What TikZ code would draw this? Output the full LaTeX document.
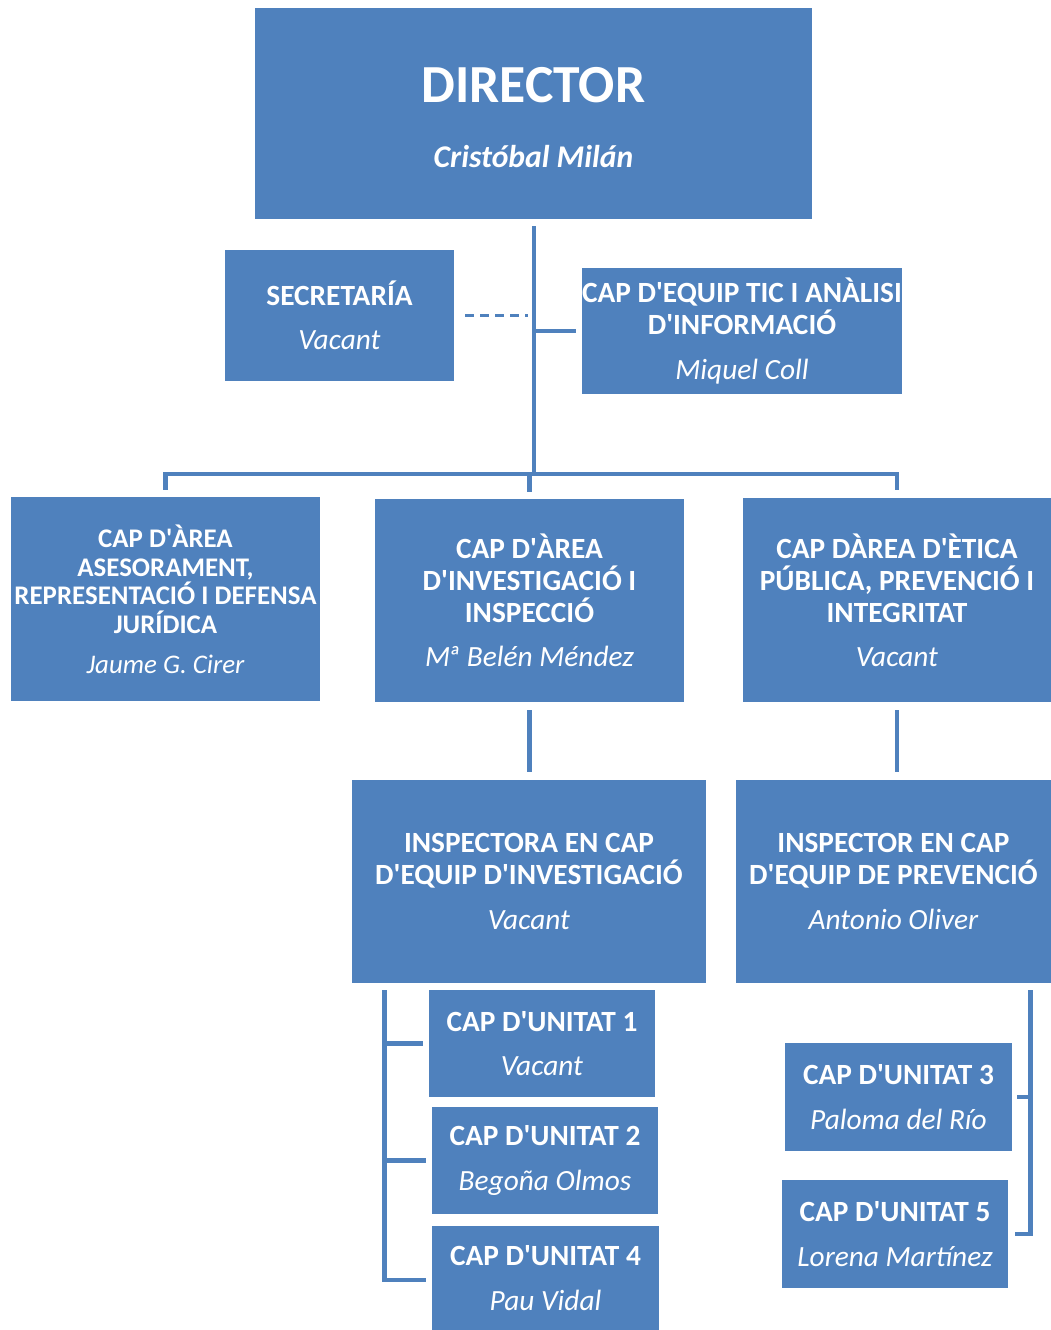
\documentclass[tikz,border=0pt]{standalone}
\usepackage{fontspec}
\newfontfamily\carlito{Carlito}
\usetikzlibrary{calc}
\definecolor{boxblue}{HTML}{4F81BD}
\newcommand{\who}[1]{{\mdseries\itshape #1}}

\begin{document}
\begin{tikzpicture}[x=0.02cm,y=-0.02cm,
    box/.style={fill=boxblue, text=white, inner sep=0pt, align=center,
      font=\carlito\bfseries\fontsize{16.7}{18.2}\selectfont},
    smallbox/.style={box, font=\carlito\bfseries\fontsize{15.3}{16.4}\selectfont},
    link/.style={draw=boxblue, line width=2.8pt},
    aide/.style={draw=boxblue, line width=1.3pt, dash pattern=on 0.18cm off 0.12cm}]

 % ================================================================
 % frame
 % ================================================================
	\useasboundingbox (0,0) rectangle (1051,1330);

        % top
        \node[box, minimum width=11.14cm, minimum height=4.22cm,
              font=\carlito\bfseries\fontsize{30.5}{34}\selectfont] (dir) at (533.5,113.5)
              {\rule{0pt}{25pt}DIRECTOR\\[3pt]{\fontsize{18}{22}\selectfont\itshape Cristóbal Milán}};
        \node[box, minimum width=4.58cm, minimum height=2.62cm] (sec) at (339.5,315.5)
              {SECRETARÍA\\[7pt]\who{Vacant}};
        \node[box, minimum width=6.36cm, minimum height=2.52cm] (tic) at (742,331)
              {CAP D'EQUIP TIC I ANÀLISI\\D'INFORMACIÓ\\[7pt]\who{Miquel Coll}};

        % areas
        \node[smallbox, minimum width=6.18cm, minimum height=4.08cm] (jur) at (165.5,599)
              {CAP D'ÀREA\\ASESORAMENT,\\REPRESENTACIÓ I DEFENSA\\JURÍDICA\\[6pt]\who{Jaume G. Cirer}};
        \node[box, minimum width=6.18cm, minimum height=4.06cm] (inv) at (529.5,600.5)
              {CAP D'ÀREA\\D'INVESTIGACIÓ I\\INSPECCIÓ\\[7pt]\who{M\kern-1.5ptª Belén Méndez}};
        \node[box, minimum width=6.16cm, minimum height=4.08cm] (eti) at (897,600)
              {CAP DÀREA D'ÈTICA\\PÚBLICA, PREVENCIÓ I\\INTEGRITAT\\[7pt]\who{Vacant}};

        % teams
        \node[box, minimum width=7.08cm, minimum height=4.06cm] (insa) at (529,881.5)
              {INSPECTORA EN CAP\\D'EQUIP D'INVESTIGACIÓ\\[7pt]\who{Vacant}};
        \node[box, minimum width=6.30cm, minimum height=4.06cm] (insb) at (893.5,881.5)
              {INSPECTOR EN CAP\\D'EQUIP DE PREVENCIÓ\\[7pt]\who{Antonio Oliver}};

        % units
        \node[box, minimum width=4.52cm, minimum height=2.14cm] (u1) at (542,1043.5)
              {CAP D'UNITAT 1\\[7pt]\who{Vacant}};
        \node[box, minimum width=4.52cm, minimum height=2.14cm] (u2) at (545,1160.5)
              {CAP D'UNITAT 2\\[7pt]\who{Begoña Olmos}};
        \node[box, minimum width=4.54cm, minimum height=2.08cm] (u4) at (545.5,1278)
              {CAP D'UNITAT 4\\[7pt]\who{Pau Vidal}};
        \node[box, minimum width=4.54cm, minimum height=2.16cm] (u3) at (898.5,1097)
              {CAP D'UNITAT 3\\[7pt]\who{Paloma del Río}};
        \node[box, minimum width=4.52cm, minimum height=2.16cm] (u5) at (895,1234)
              {CAP D'UNITAT 5\\[7pt]\who{Lorena Martínez}};

 % ----------------------------------------
 % links
 % ----------------------------------------
        \coordinate (bar) at (534,474);
        \draw[link] ($(dir.south -| bar)+(0,7)$) -- (bar);
        \draw[link] ($(jur.north)+(0,-7)$) |- (bar) -| ($(eti.north)+(0,-8)$);
        \draw[link] (inv.north |- bar) -- ($(inv.north)+(0,-7)$);
        \draw[aide] ($(sec.east)+(11,0)$) -- ($(sec.east -| bar)+(-6,0)$);
        \draw[link] ($(tic.west -| bar)+(2,0)$) -- ($(tic.west)+(-6,0)$);

        \draw[link] ($(inv.south)+(0,8)$) -- ($(insa.north -| inv.south)+(0,-8)$);
        \draw[link] ($(eti.south)+(0,8)$) -- ($(insb.north -| eti.south)+(0,-8)$);

        % left units
        \coordinate (lft) at ($(insa.south west)+(33,7)$);
        \draw[link] (lft) |- ($(u4.west)+(-6,2)$);
        \draw[link] (lft |- u1.west) -- ($(u1.west)+(-6,0)$);
        \draw[link] (lft |- u2.west) -- ($(u2.west)+(-6,0)$);

        % right units
        \coordinate (rgt) at ($(insb.south east)+(-21,7)$);
        \draw[link] (rgt) |- ($(u5.east)+(7,0)$);
        \draw[link] (rgt |- u3.east) -- ($(u3.east)+(5,0)$);

\end{tikzpicture}
\end{document}
